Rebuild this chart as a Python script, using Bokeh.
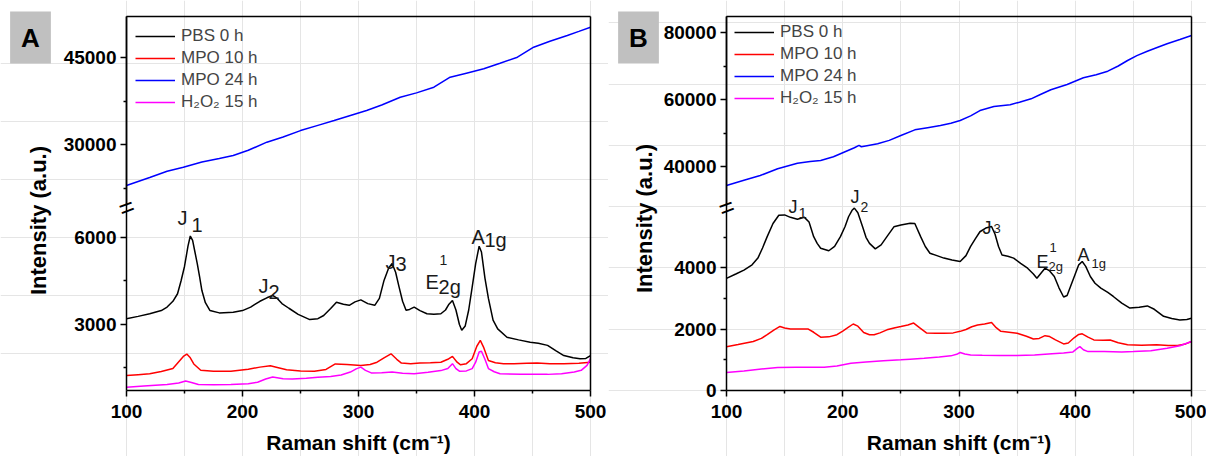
import math
from bokeh.plotting import figure
from bokeh.models import Range1d, LinearAxis, FixedTicker, Label
from bokeh.layouts import row
from bokeh.core.properties import value
from bokeh.embed import file_html
from bokeh.resources import INLINE

FONT = "Liberation Sans"

# ---------------- Panel A data ----------------
a_black_x = [100, 110, 120, 130, 135, 140, 144, 147, 150, 153, 155, 157, 159, 161, 163, 165, 168, 172, 180, 192,
             200, 207, 215, 221, 226, 230, 234, 240, 248, 258, 265, 270, 276, 281, 287, 292, 297, 302, 308, 314,
             318, 322, 326, 329, 332, 335, 338, 341, 344, 348, 353, 359, 365, 371, 375, 378, 381, 384, 387, 389,
             392, 395, 398, 401, 404, 406, 409, 412, 416, 420, 428, 438, 448, 455, 463, 470, 477, 485, 491, 496, 500]
a_black_y = [3200, 3280, 3370, 3480, 3600, 3800, 4060, 4500, 5000, 5700, 6050, 5900, 5500, 5100, 4650, 4170, 3750, 3480, 3400, 3420,
             3480, 3600, 3800, 3920, 4000, 3900, 3720, 3560, 3350, 3170, 3200, 3310, 3550, 3770, 3700, 3660, 3780, 3850, 3720, 3660,
             3900, 4520, 4950, 5100, 4800, 4290, 3800, 3490, 3520, 3600, 3480, 3370, 3350, 3370, 3500, 3700, 3830, 3500, 3000, 2800,
             2950, 3500, 4290, 5100, 5700, 5500, 4600, 3900, 3150, 2850, 2560, 2470, 2390, 2350, 2280, 2100, 1930, 1850, 1820, 1830, 1930]

a_red_x = [100, 110, 120, 130, 140, 146, 149, 152, 155, 158, 164, 175, 190, 205, 215, 224, 230, 238, 250, 262,
           272, 280, 290, 302, 310, 316, 322, 328, 333, 337, 345, 353, 362, 371, 377, 381, 385, 388, 393, 398,
           402, 405, 408, 412, 418, 425, 434, 445, 454, 465, 477, 490, 500]
a_red_y = [1240, 1270, 1300, 1380, 1480, 1760, 1900, 1980, 1850, 1640, 1420, 1390, 1390, 1460, 1530, 1580, 1520, 1440, 1400, 1390,
           1450, 1640, 1620, 1590, 1620, 1700, 1850, 1990, 1800, 1670, 1650, 1670, 1680, 1700, 1800, 1900, 1700, 1610, 1650, 1820,
           2250, 2450, 2200, 1760, 1680, 1650, 1645, 1660, 1670, 1650, 1645, 1660, 1700]

a_blue_x = [100, 120, 135, 149, 165, 180, 192, 205, 221, 235, 250, 265, 279, 293, 307, 320, 336, 350, 365, 379,
            393, 408, 422, 437, 451, 465, 480, 490, 500]
a_blue_y = [22930, 24300, 25400, 26090, 27000, 27600, 28100, 29000, 30400, 31300, 32400, 33300, 34140, 35000, 35860, 36800, 38150, 38900, 39880, 41600,
            42300, 43050, 44000, 45050, 46770, 47800, 48790, 49500, 50220]

a_mag_x = [100, 115, 135, 145, 151, 156, 162, 175, 190, 205, 213, 220, 226, 235, 243, 255, 265, 276, 285, 293,
           298, 302, 306, 311, 320, 329, 338, 348, 360, 371, 377, 381, 384, 387, 393, 398, 401, 404, 406, 409,
           412, 417, 422, 440, 463, 475, 486, 492, 497, 500]
a_mag_y = [840, 880, 930, 980, 1050, 1000, 930, 925, 930, 960, 1010, 1120, 1190, 1130, 1120, 1150, 1180, 1210, 1260, 1360,
           1470, 1530, 1420, 1330, 1340, 1360, 1320, 1300, 1350, 1410, 1480, 1650, 1480, 1390, 1400, 1480, 1700, 2050, 2080, 1800,
           1480, 1370, 1300, 1280, 1280, 1300, 1360, 1420, 1590, 1820]

# ---------------- Panel B data ----------------
b_black_x = [100, 108, 115, 122, 127, 131, 135, 140, 145, 150, 155, 161, 167, 171, 175, 178, 181, 188, 193, 198,
             202, 205, 208, 210, 213, 217, 220, 223, 228, 233, 238, 244, 250, 258, 262, 267, 271, 275, 281, 287,
             294, 301, 306, 310, 314, 318, 323, 328, 331, 334, 337, 342, 347, 353, 359, 364, 367, 371, 374, 378,
             382, 386, 390, 393, 396, 400, 403, 406, 409, 413, 417, 422, 428, 433, 440, 447, 455, 462, 468, 476,
             483, 490, 496, 500]
b_black_y = [3660, 3800, 3930, 4100, 4320, 4650, 5020, 5450, 5720, 5730, 5650, 5590, 5650, 5500, 5020, 4800, 4640, 4560, 4700, 5020,
             5350, 5670, 5880, 5950, 5800, 5350, 5000, 4800, 4620, 4750, 5020, 5340, 5400, 5460, 5450, 5020, 4700, 4480, 4400, 4320,
             4260, 4210, 4400, 4700, 4950, 5180, 5300, 5350, 5100, 4700, 4420, 4380, 4320, 4150, 3990, 3800, 3660, 3850, 3990, 3900,
             3720, 3350, 3050, 3100, 3400, 3800, 4100, 4210, 4050, 3720, 3500, 3340, 3200, 3060, 2850, 2690, 2720, 2760, 2650, 2420,
             2350, 2300, 2320, 2360]

b_red_x = [100, 110, 123, 130, 135, 141, 146, 150, 155, 162, 170, 175, 181, 188, 195, 200, 204, 209, 213, 218,
           223, 227, 232, 238, 245, 250, 256, 261, 266, 272, 280, 287, 295, 301, 306, 311, 316, 322, 328, 332,
           336, 343, 350, 358, 364, 369, 374, 378, 383, 390, 394, 399, 403, 406, 411, 416, 424, 430, 437, 445,
           457, 470, 480, 488, 495, 500]
b_red_y = [1430, 1500, 1600, 1700, 1820, 1980, 2090, 2040, 2010, 2010, 2010, 1900, 1740, 1750, 1820, 1940, 2040, 2170, 2100, 1890,
           1820, 1820, 1880, 1980, 2050, 2090, 2140, 2200, 2050, 1880, 1870, 1870, 1880, 1930, 1990, 2080, 2140, 2170, 2220, 2050,
           1930, 1900, 1870, 1770, 1680, 1700, 1790, 1760, 1650, 1520, 1550, 1720, 1830, 1850, 1740, 1650, 1640, 1650, 1560, 1490,
           1480, 1490, 1470, 1470, 1520, 1600]

b_blue_x = [100, 115, 129, 144, 161, 172, 181, 192, 201, 210, 214, 216, 222, 230, 240, 250, 262, 273, 284, 293,
            301, 310, 318, 330, 344, 352, 362, 370, 379, 393, 407, 418, 428, 437, 445, 453, 462, 471, 479, 490, 500]
b_blue_y = [34330, 35900, 37310, 39310, 40990, 41500, 41790, 42900, 44270, 45600, 46300, 45900, 46300, 46780, 47800, 49250, 50950, 51600, 52240, 52900,
            53730, 55100, 56700, 57900, 58420, 59200, 60200, 61500, 62900, 64480, 66480, 67400, 68450, 70000, 71640, 73100, 74420, 75600, 76630, 77900, 79100]

b_mag_x = [100, 115, 130, 144, 160, 175, 184, 195, 207, 220, 235, 250, 258, 270, 283, 293, 298, 301, 305, 310,
           320, 335, 350, 365, 380, 390, 398, 402, 404, 407, 411, 425, 440, 450, 465, 479, 490, 500]
b_mag_y = [590, 640, 700, 750, 760, 760, 760, 800, 890, 930, 970, 1000, 1020, 1050, 1090, 1130, 1180, 1240, 1190, 1160,
           1150, 1140, 1140, 1160, 1200, 1220, 1260, 1380, 1430, 1330, 1270, 1270, 1260, 1270, 1300, 1380, 1460, 1600]

series_names = ["PBS 0 h", "MPO 10 h", "MPO 24 h", "H\u2082O\u2082 15 h"]
series_colors = ["#000000", "#ff0000", "#0000ff", "#ff00ff"]

# axis ticks
x_lim = (100, 500)
x_ticks = [100, 200, 300, 400, 500]
x_minor = [150, 250, 350, 450]
a_low_ticks, a_low_minor = [3000, 6000], [1500, 4500]
a_up_ticks, a_up_minor = [30000, 45000], [22500, 37500]
b_low_ticks, b_low_minor = [0, 2000, 4000], [1000, 3000, 5000]
b_up_ticks, b_up_minor = [40000, 60000, 80000], [50000, 70000]
# value at the bottom of the lower segment / top of the upper segment, and units per pixel
a_low_bottom, a_low_per_px = 724, 34.48
a_up_top, a_up_per_px = 52068, 172.4
b_low_bottom, b_low_per_px = 0, 32.63
b_up_top, b_up_per_px = 84776, 298.5

# peak annotations: (text, x, y, font size)
a_peak_labels = [("J", 144.0, 6655, 20), ("1", 156.0, 6414, 20),
                 ("J", 213.8, 4310, 20), ("2", 222.4, 4104, 20),
                 ("J", 323.3, 5138, 20), ("3", 331.9, 5069, 20),
                 ("E", 357.8, 4448, 20), ("1", 369.8, 5207, 14), ("2g", 369.0, 4276, 20),
                 ("A", 397.4, 6000, 20), ("1g", 408.6, 5897, 20)]
b_peak_labels = [("J", 153.3, 5990, 18), ("1", 161.9, 5795, 15),
                 ("J", 206.7, 6317, 18), ("2", 215.3, 5990, 14),
                 ("J", 320.2, 5305, 18), ("3", 329.7, 5273, 13),
                 ("E", 366.7, 4196, 18), ("1", 377.8, 4653, 13), ("2g", 377.0, 4033, 13),
                 ("A", 401.9, 4424, 18), ("1g", 414.0, 4130, 13)]

# layout (pixels within each figure canvas)
H = 456
FRAME_TOP, FRAME_BOTTOM = 16, 390
BREAK_PX = 205
XLABEL_PX = 442


def style_axis(ax, ticks=True):
    ax.axis_line_width = 1.5
    ax.axis_line_color = "black"
    ax.major_tick_line_width = 1.5
    ax.minor_tick_line_width = 1.5
    ax.major_tick_out = 6
    ax.major_tick_in = 0
    ax.minor_tick_out = 3
    ax.minor_tick_in = 0
    ax.major_label_text_font = FONT
    ax.major_label_text_font_style = "bold"
    ax.major_label_text_font_size = "19px"
    ax.major_label_text_color = "black"
    if not ticks:
        ax.major_tick_line_color = None
        ax.minor_tick_line_color = None


def make_panel(letter, data, width, left_px, right_px, low_bottom, low_per_px, up_top, up_per_px,
               low_t, low_m, up_t, up_m, labels, legend_xy, ylab_px):
    px_per_x = (right_px - left_px) / (x_lim[1] - x_lim[0])
    x_range = Range1d(x_lim[0] - left_px / px_per_x, x_lim[0] + (width - left_px) / px_per_x)
    low_top = low_bottom + (FRAME_BOTTOM - FRAME_TOP) * low_per_px
    y_range = Range1d(low_bottom - (H - FRAME_BOTTOM) * low_per_px, low_bottom + FRAME_BOTTOM * low_per_px)
    up_range = Range1d(up_top - (H - FRAME_TOP) * up_per_px, up_top + FRAME_TOP * up_per_px)
    up_break = up_top - (BREAK_PX - FRAME_TOP) * up_per_px

    def low_at(px):
        return low_bottom + (FRAME_BOTTOM - px) * low_per_px

    p = figure(width=width, height=H, output_backend="svg", toolbar_location=None,
               x_range=x_range, y_range=y_range, x_axis_location=None, y_axis_location=None,
               min_border_left=0, min_border_right=0, min_border_top=0, min_border_bottom=0)
    p.extra_y_ranges = {"up": up_range}
    p.outline_line_color = None
    p.background_fill_color = "white"
    p.border_fill_color = "white"

    xa = LinearAxis(fixed_location=low_bottom, bounds=x_lim,
                    ticker=FixedTicker(ticks=x_ticks, minor_ticks=x_minor))
    style_axis(xa)
    xa.major_label_standoff = 8
    p.add_layout(xa, "below")

    top = LinearAxis(fixed_location=low_top, bounds=x_lim, ticker=FixedTicker(ticks=[]))
    style_axis(top, ticks=False)
    p.add_layout(top, "above")

    ya = LinearAxis(fixed_location=x_lim[0], bounds=(low_bottom, low_top),
                    ticker=FixedTicker(ticks=low_t, minor_ticks=low_m))
    style_axis(ya)
    ya.major_label_standoff = 4
    p.add_layout(ya, "left")

    ua = LinearAxis(y_range_name="up", fixed_location=x_lim[0], bounds=(up_break, up_top),
                    ticker=FixedTicker(ticks=up_t, minor_ticks=up_m))
    style_axis(ua)
    ua.major_label_standoff = 4
    p.add_layout(ua, "left")

    ra = LinearAxis(fixed_location=x_lim[1], bounds=(low_bottom, low_top), ticker=FixedTicker(ticks=[]))
    style_axis(ra, ticks=False)
    p.add_layout(ra, "right")

    for (xs, ys), name, col in zip(data, series_names, series_colors):
        kw = {"y_range_name": "up"} if name == "MPO 24 h" else {}
        p.line(xs, ys, line_color=col, line_width=1.5, legend_label=name, **kw)

    lg = p.legend[0]
    lg.location = legend_xy
    lg.border_line_color = None
    lg.background_fill_alpha = 0
    lg.label_text_font = FONT
    lg.label_text_font_size = "17px"
    lg.glyph_width = 40
    lg.glyph_height = 22
    lg.label_height = 22
    lg.label_standoff = 6
    lg.spacing = 0
    lg.padding = 0
    lg.margin = 0

    for t, x, y, s in labels:
        p.text(x=[x], y=[y], text=[t], text_font=value(FONT), text_font_size=f"{s}px",
               text_align="left", text_baseline="alphabetic", text_color="#1a1a1a")

    p.add_layout(Label(x=x_lim[0], y=low_at(ylab_px[1]), x_offset=ylab_px[0] - left_px,
                       text="Intensity (a.u.)",
                       angle=math.pi / 2, text_align="center", text_baseline="middle",
                       text_font=FONT, text_font_style="bold", text_font_size="22px",
                       text_color="black"))
    p.add_layout(Label(x=sum(x_lim) / 2, y=low_at(XLABEL_PX), text="Raman shift (cm\u207b\u00b9)",
                       text_align="center", text_baseline="middle",
                       text_font=FONT, text_font_style="bold", text_font_size="21px",
                       text_color="black"))
    p.add_layout(Label(x=x_lim[0], y=low_at(37), x_offset=30 - left_px, text=letter,
                       text_align="center", text_baseline="middle",
                       text_font=FONT, text_font_style="bold", text_font_size="26px",
                       text_color="black", background_fill_color="#c0c0c0", padding=11))
    p.add_layout(Label(x=x_lim[0], y=low_at(BREAK_PX + 2), text="=", angle=0.35,
                       text_align="center", text_baseline="middle",
                       text_font=FONT, text_font_size="26px", text_color="black"))
    return p


pA = make_panel("A",
                [(a_black_x, a_black_y), (a_red_x, a_red_y), (a_blue_x, a_blue_y), (a_mag_x, a_mag_y)],
                608, 126, 590, a_low_bottom, a_low_per_px, a_up_top, a_up_per_px,
                a_low_ticks, a_low_minor, a_up_ticks, a_up_minor,
                a_peak_labels, (135, H - 113), (38, 220))
pB = make_panel("B",
                [(b_black_x, b_black_y), (b_red_x, b_red_y), (b_blue_x, b_blue_y), (b_mag_x, b_mag_y)],
                598, 118, 583, b_low_bottom, b_low_per_px, b_up_top, b_up_per_px,
                b_low_ticks, b_low_minor, b_up_ticks, b_up_minor,
                b_peak_labels, (126, H - 109), (36, 218))

layout = row(pA, pB)
open("out.html", "w").write(file_html(layout, INLINE))
